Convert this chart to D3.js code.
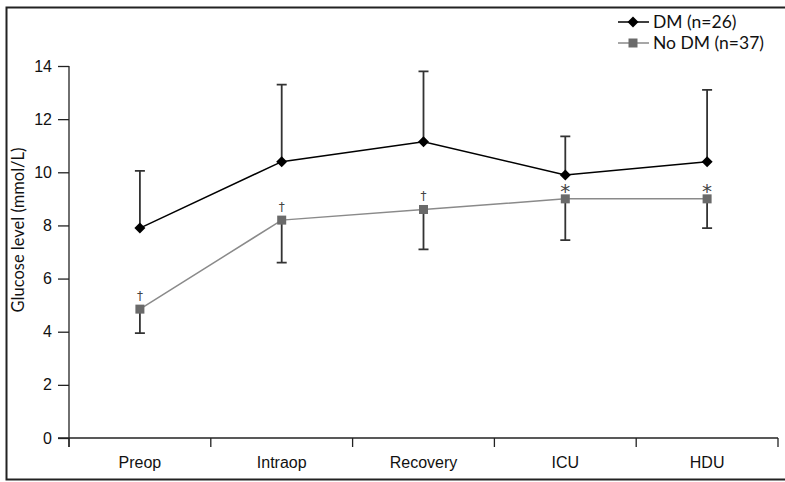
<!DOCTYPE html>
<html>
<head>
	<meta charset="utf-8">
	<title>Glucose level</title>
	<style>
		body{ margin:0; background:white; }
		svg{ display:block; font-family: Lato, "Open Sans", sans-serif; }
		.axis path, .axis line{ stroke:#222; stroke-width:1.3px; }
		.axis text{ font-size:16px; fill:#111; }
	</style>
	<script src="https://cdn.jsdelivr.net/npm/d3@7/dist/d3.min.js"></script>
</head>
<body>
  <svg width="785" height="482"></svg>
  <script>
    var stages = ["Preop", "Intraop", "Recovery", "ICU", "HDU"];
    var dmMean = [7.9, 10.4, 11.15, 9.9, 10.4];
    var dmSd   = [2.15, 2.9, 2.65, 1.45, 2.7];
    var noMean = [4.85, 8.2, 8.6, 9.0, 9.0];
    var noSd   = [0.9, 1.6, 1.5, 1.55, 1.1];
    var marks  = ["\u2020", "\u2020", "\u2020", "*", "*"];
    var yTicks = [0, 2, 4, 6, 8, 10, 12, 14];

    var svg = d3.select("svg");

    // frame
    svg.append("rect")
       .attr("x", 6.5).attr("y", 7.5)
       .attr("width", 800).attr("height", 472)
       .attr("fill", "none").attr("stroke", "#222").attr("stroke-width", 2);

    var x = d3.scaleBand().domain(stages).range([69, 778]);
    var y = d3.scaleLinear().domain([0, 14]).range([438, 66]);
    var cx = function(i){ return x(stages[i]) + x.bandwidth() / 2; };

    // y axis
    var gy = svg.append("g").attr("class", "axis")
       .attr("transform", "translate(69,0)")
       .call(d3.axisLeft(y).tickValues(yTicks).tickSize(11).tickSizeOuter(0).tickPadding(6));
    gy.select(".domain").attr("d", "M0,66V447");

    // x axis: ticks at band edges
    var gx = svg.append("g").attr("class", "axis")
       .attr("transform", "translate(0,438)")
       .call(d3.axisBottom(x).tickSize(0).tickPadding(19));
    gx.select(".domain").attr("d", "M58,0H778");
    gx.selectAll(".edge").data(stages.concat(["end"])).enter().append("line")
       .attr("x1", function(d, i){ return i < stages.length ? x(d) : x.range()[1]; })
       .attr("x2", function(d, i){ return i < stages.length ? x(d) : x.range()[1]; })
       .attr("y1", 0).attr("y2", 9);

    svg.append("text")
       .attr("transform", "translate(24,230) rotate(-90)")
       .attr("text-anchor", "middle")
       .attr("font-size", 16.5)
       .attr("fill", "#111")
       .text("Glucose level (mmol/L)");

    var line = d3.line().x(function(d, i){ return cx(i); }).y(function(d){ return y(d); });

    // error bars
    svg.selectAll(".errDm").data(dmMean).enter().append("path")
       .attr("d", function(d, i){
         var t = y(d + dmSd[i]);
         return "M" + cx(i) + "," + y(d) + "V" + t + "M" + (cx(i) - 5) + "," + t + "H" + (cx(i) + 5);
       })
       .attr("stroke", "#333").attr("stroke-width", 1.8).attr("fill", "none");
    svg.selectAll(".errNo").data(noMean).enter().append("path")
       .attr("d", function(d, i){
         var b = y(d - noSd[i]);
         return "M" + cx(i) + "," + y(d) + "V" + b + "M" + (cx(i) - 5) + "," + b + "H" + (cx(i) + 5);
       })
       .attr("stroke", "#333").attr("stroke-width", 1.8).attr("fill", "none");

    svg.append("path").datum(noMean).attr("d", line)
       .attr("fill", "none").attr("stroke", "#8a8a8a").attr("stroke-width", 1.5);
    svg.append("path").datum(dmMean).attr("d", line)
       .attr("fill", "none").attr("stroke", "#000").attr("stroke-width", 1.5);

    var diamond = "M0,-5.5L5.5,0L0,5.5L-5.5,0Z";
    svg.selectAll(".dm").data(dmMean).enter().append("path")
       .attr("d", diamond)
       .attr("transform", function(d, i){ return "translate(" + cx(i) + "," + y(d) + ")"; })
       .attr("fill", "#000");
    svg.selectAll(".no").data(noMean).enter().append("rect")
       .attr("x", function(d, i){ return cx(i) - 4.5; })
       .attr("y", function(d){ return y(d) - 4.5; })
       .attr("width", 9).attr("height", 9)
       .attr("fill", "#6a6a6a");

    svg.selectAll(".mk").data(noMean).enter().append("text")
       .attr("x", function(d, i){ return cx(i); })
       .attr("y", function(d, i){ return y(d) - (marks[i] === "*" ? 1 : 9); })
       .attr("text-anchor", "middle")
       .attr("font-family", "DejaVu Sans")
       .attr("font-size", function(d, i){ return marks[i] === "*" ? 20 : 12; })
       .attr("fill", "#444")
       .text(function(d, i){ return marks[i]; });

    // legend
    var legend = [
      {name: "DM (n=26)", color: "#000", shape: "diamond"},
      {name: "No DM (n=37)", color: "#8a8a8a", shape: "square"}
    ];
    var lg = svg.selectAll(".lg").data(legend).enter().append("g")
       .attr("transform", function(d, i){ return "translate(618," + (22 + i * 21) + ")"; });
    lg.append("line").attr("x1", 0).attr("x2", 31).attr("y1", 0).attr("y2", 0)
       .attr("stroke", function(d){ return d.color; }).attr("stroke-width", 1.5);
    lg.append("path")
       .attr("d", function(d){ return d.shape === "diamond" ? diamond : "M-4.5,-4.5h9v9h-9Z"; })
       .attr("transform", "translate(15,0)")
       .attr("fill", function(d){ return d.shape === "diamond" ? "#000" : "#6a6a6a"; });
    lg.append("text").attr("x", 35).attr("y", 6)
       .attr("font-size", 17.5).attr("fill", "#111")
       .text(function(d){ return d.name; });
  </script>
</body>
</html>
